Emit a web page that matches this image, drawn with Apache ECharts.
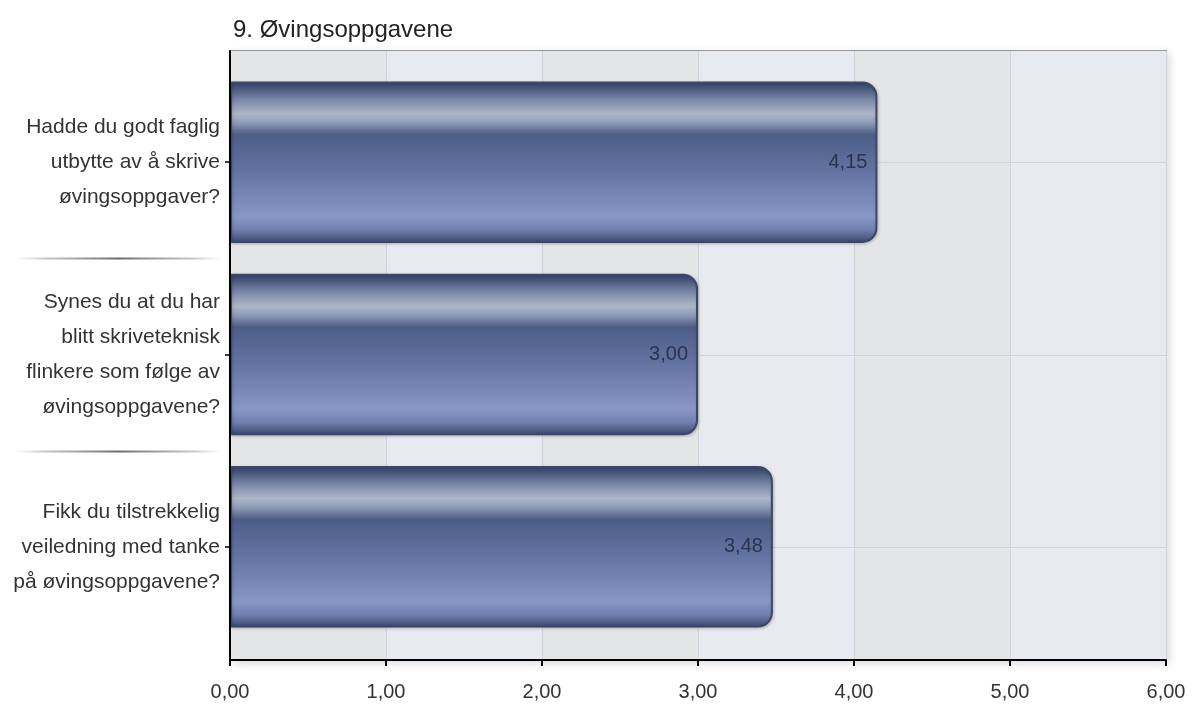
<!DOCTYPE html>
<html>
<head>
<meta charset="utf-8">
<script src="https://cdn.jsdelivr.net/npm/echarts@6/dist/echarts.min.js"></script>
<style>
html,body{margin:0;padding:0;background:#fff;}
#main{width:1197px;height:707px;}
</style>
</head>
<body>
<div id="main"></div>
<script>
const titleText = '9. Øvingsoppgavene';
const categories = [
  'Hadde du godt faglig\nutbytte av å skrive\nøvingsoppgaver?',
  'Synes du at du har\nblitt skriveteknisk\nflinkere som følge av\nøvingsoppgavene?',
  'Fikk du tilstrekkelig\nveiledning med tanke\npå øvingsoppgavene?'
];
const values = [4.15, 3.00, 3.48];
const xMin = 0, xMax = 6, xInterval = 1;

const FONT = '"Liberation Sans", Arial, Helvetica, sans-serif';
const fmt = v => Number(v).toFixed(2).replace('.', ',');

const chart = echarts.init(document.getElementById('main'), null, {renderer: 'canvas'});

const barGradient = new echarts.graphic.LinearGradient(0, 0, 0, 1, [
  {offset: 0.00, color: '#36456a'},
  {offset: 0.04, color: '#46567b'},
  {offset: 0.12, color: '#7e8ba9'},
  {offset: 0.20, color: '#adb5c8'},
  {offset: 0.25, color: '#949fb8'},
  {offset: 0.33, color: '#4c5d86'},
  {offset: 0.55, color: '#6273a2'},
  {offset: 0.84, color: '#8797c6'},
  {offset: 0.92, color: '#6f7faf'},
  {offset: 1.00, color: '#38486c'}
]);

const sepGradient = new echarts.graphic.LinearGradient(0, 0, 1, 0, [
  {offset: 0, color: 'rgba(160,160,160,0)'},
  {offset: 0.15, color: 'rgba(140,140,140,0.5)'},
  {offset: 0.5, color: 'rgba(80,80,80,0.85)'},
  {offset: 0.85, color: 'rgba(140,140,140,0.5)'},
  {offset: 1, color: 'rgba(160,160,160,0)'}
]);

// helper items: [x, categoryIndex, kind] kind 0 = centre gridline, 1 = separator between categories
const helperItems = categories.map((c, i) => [0, i, 0])
  .concat(categories.slice(1).map((c, i) => [0, i + 1, 1]));

chart.setOption({
  backgroundColor: '#ffffff',
  animation: false,
  textStyle: {fontFamily: FONT},
  title: {
    text: titleText,
    left: 228,
    top: 13,
    textStyle: {fontFamily: FONT, fontSize: 24, fontWeight: 'normal', color: '#222'}
  },
  grid: [
    {
      left: 230, right: 31, top: 51, bottom: 47,
      show: true,
      backgroundColor: '#e5e6e8',
      borderColor: '#9a9a9a',
      borderWidth: 2,
      shadowColor: 'rgba(0,0,0,0.12)',
      shadowBlur: 8,
      shadowOffsetX: 3,
      shadowOffsetY: 3
    },
    {left: 230, right: 31, top: 66, bottom: 64}
  ],
  xAxis: [
    {
      type: 'value', gridIndex: 0,
      min: xMin, max: xMax, interval: xInterval,
      axisLine: {show: true, lineStyle: {color: '#000', width: 2}},
      axisTick: {show: true, length: 6, lineStyle: {color: '#000', width: 2}},
      axisLabel: {formatter: fmt, fontSize: 20, color: '#333', margin: 22, fontFamily: FONT},
      splitLine: {show: true, lineStyle: {color: '#d2d3d6', width: 1}},
      splitArea: {show: true, areaStyle: {color: ['#e4e5e7', '#e7eaee']}}
    },
    {
      type: 'value', gridIndex: 1, show: false,
      min: xMin, max: xMax, interval: xInterval
    }
  ],
  yAxis: [
    {
      type: 'value', gridIndex: 0, min: 0, max: 1, z: 6,
      axisLine: {show: true, lineStyle: {color: '#000', width: 2}},
      axisTick: {show: false},
      axisLabel: {show: false},
      splitLine: {show: false}
    },
    {
      type: 'category', gridIndex: 1,
      data: categories,
      inverse: true, z: 6,
      axisLine: {show: false},
      axisTick: {show: true, alignWithLabel: true, length: 5, lineStyle: {color: '#000', width: 1.5}},
      axisLabel: {fontSize: 21, color: '#333', lineHeight: 35, margin: 10, align: 'right', fontFamily: FONT},
      splitLine: {show: false}
    }
  ],
  series: [
    {
      type: 'custom',
      xAxisIndex: 1, yAxisIndex: 1,
      z: 1,
      silent: true,
      clip: false,
      data: helperItems,
      encode: {x: 0, y: 1},
      renderItem: function (params, api) {
        const idx = api.value(1);
        const kind = api.value(2);
        const p = api.coord([xMin, idx]);
        const pEnd = api.coord([xMax, idx]);
        const band = api.size([0, 1])[1];
        if (kind === 0) {
          const y = Math.round(p[1]) + 0.5;
          return {
            type: 'line',
            shape: {x1: p[0], y1: y, x2: pEnd[0], y2: y},
            style: {stroke: '#d3d4d7', lineWidth: 1}
          };
        }
        const y = Math.round(p[1] - band / 2) + 0.5;
        return {
          type: 'line',
          shape: {x1: p[0] - 215, y1: y, x2: p[0] - 8, y2: y},
          style: {stroke: sepGradient, lineWidth: 2}
        };
      }
    },
    {
      type: 'bar',
      xAxisIndex: 1, yAxisIndex: 1,
      z: 3,
      data: values,
      barWidth: '84%',
      itemStyle: {
        color: barGradient,
        borderColor: '#3a496a',
        borderWidth: 2,
        borderRadius: [0, 14, 14, 0],
        shadowColor: 'rgba(0,0,0,0.2)',
        shadowBlur: 3,
        shadowOffsetX: 1,
        shadowOffsetY: 1
      },
      label: {
        show: true,
        position: 'insideRight',
        distance: 10,
        formatter: p => fmt(p.value),
        fontSize: 20,
        color: '#2a3450',
        fontFamily: FONT
      }
    }
  ]
});
</script>
</body>
</html>
